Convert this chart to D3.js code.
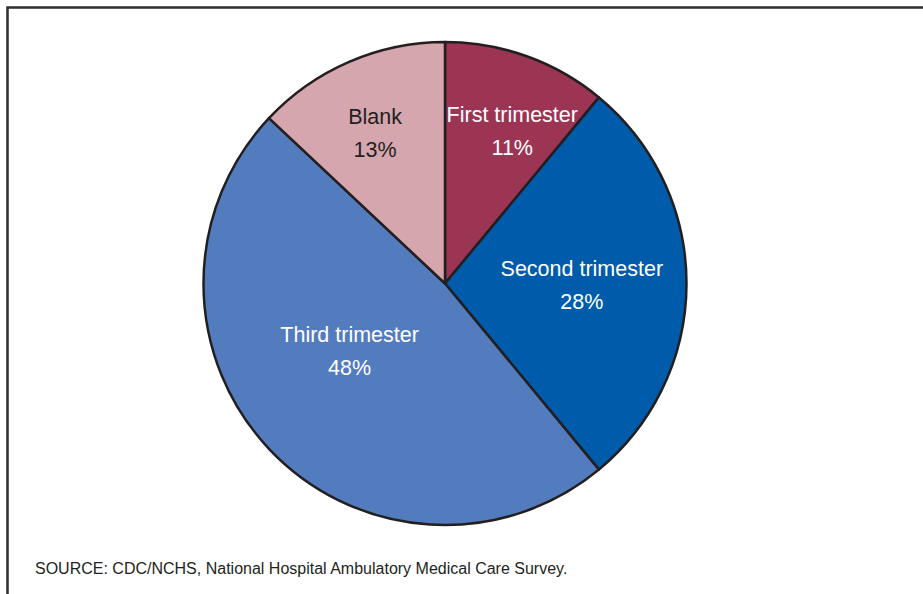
<!DOCTYPE html>
<html>
<head>
<script src="https://cdn.jsdelivr.net/npm/d3@7"></script>
<style>
  body { margin: 0; background: #fff; }
  text { font-family: "Liberation Sans", Arial, sans-serif; }
</style>
</head>
<body>
<div id="vis"></div>
<script>
  // slices, clockwise from 12 o'clock
  const categories = ["First trimester", "Second trimester", "Third trimester", "Blank"];
  const shares = [11, 28, 48, 13];
  const colors = ["#9c3554", "#005baa", "#537cbe", "#d5a6ad"];
  const textColors = ["#fff", "#fff", "#fff", "#231f20"];
  // label anchor (first line baseline) as [radius, degrees]
  const labelSpots = [[175, 22.6], [137, 86.8], [112, 238.4], [174, -23.7]];
  const source = "SOURCE: CDC/NCHS, National Hospital Ambulatory Medical Care Survey.";

  const W = 923, H = 594;
  const cx = 445, cy = 283.5, R = 241.5;

  const svg = d3.select("#vis").append("svg").attr("width", W).attr("height", H);

  svg.append("rect")
    .attr("x", 7.5).attr("y", 7.5)
    .attr("width", W + 20).attr("height", H + 20)
    .style("fill", "none").style("stroke", "#2e2e2e").style("stroke-width", 2.5);

  const data = categories.map((c, i) => ({ name: c, value: shares[i], i }));
  const pie = d3.pie().value(d => d.value).sort(null);
  const arc = d3.arc().innerRadius(0).outerRadius(R);

  const g = svg.append("g").attr("transform", `translate(${cx},${cy})`);

  g.selectAll("path")
    .data(pie(data))
    .join("path")
    .attr("d", arc)
    .style("fill", d => colors[d.data.i])
    .style("stroke", "#231f20")
    .style("stroke-width", 2.5)
    .style("stroke-linejoin", "round");

  const labels = g.selectAll("g.lab")
    .data(pie(data))
    .join("g")
    .attr("class", "lab")
    .attr("transform", d => {
      const s = labelSpots[d.data.i];
      const p = d3.pointRadial(s[1] * Math.PI / 180, s[0]);
      return `translate(${p[0]},${p[1]})`;
    });

  labels.append("text")
    .attr("text-anchor", "middle")
    .style("font-size", "21.5px")
    .style("fill", d => textColors[d.data.i])
    .text(d => d.data.name);

  labels.append("text")
    .attr("text-anchor", "middle")
    .attr("y", 33)
    .style("font-size", "21.5px")
    .style("fill", d => textColors[d.data.i])
    .text(d => d.data.value + "%");

  svg.append("text")
    .attr("x", 35).attr("y", 574)
    .style("font-size", "16px")
    .style("fill", "#231f20")
    .text(source);
</script>
</body>
</html>
